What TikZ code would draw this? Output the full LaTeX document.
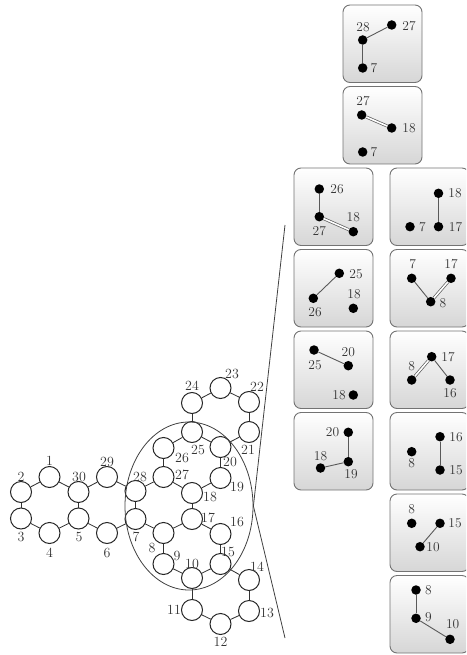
\documentclass[tikz,border=0pt]{standalone}
\usetikzlibrary{shapes.geometric}
\begin{document}
\begin{tikzpicture}[x=1pt,y=-1pt,
  atom/.style={circle,draw=black!85,line width=1pt,minimum size=21pt,inner sep=0pt},
  bond/.style={draw=black!80,line width=0.85pt},
  lbl/.style={inner sep=0pt,text=black!80,font=\fontsize{14}{16}\selectfont},
  blbl/.style={inner sep=0pt,text=black!80,font=\fontsize{13.5}{15}\selectfont},
  box/.style={draw=black!55,line width=0.9pt,rounded corners=7pt,top color=white,bottom color=black!16,minimum width=79pt,minimum height=77.5pt,inner sep=0pt},
  dot/.style={circle,fill=black,minimum size=9.5pt,inner sep=0pt},
  sb/.style={draw=black!65,line width=0.9pt},
  db/.style={draw=black!65,double=white,double distance=1.6pt,line width=0.7pt},
  zoomline/.style={draw=black!75,line width=0.8pt}]
\useasboundingbox (0,0) rectangle (466,655);
\clip (0,0) rectangle (466,655);

% ---------- molecule ----------
\node[atom] (a1) at (49.5,477) {};
\node[atom] (a2) at (21,492) {};
\node[atom] (a3) at (21,518.5) {};
\node[atom] (a4) at (49.5,533) {};
\node[atom] (a5) at (78.5,518.5) {};
\node[atom] (a6) at (107,533) {};
\node[atom] (a7) at (135.5,519) {};
\node[atom] (a8) at (163.5,533) {};
\node[atom] (a9) at (163.5,564) {};
\node[atom] (a10) at (192,578) {};
\node[atom] (a11) at (192,610) {};
\node[atom] (a12) at (220.5,624) {};
\node[atom] (a13) at (249,611) {};
\node[atom] (a14) at (249,580) {};
\node[atom] (a15) at (220.5,564) {};
\node[atom] (a16) at (220.5,534) {};
\node[atom] (a17) at (192,519) {};
\node[atom] (a18) at (192,493) {};
\node[atom] (a19) at (220.5,478) {};
\node[atom] (a20) at (220.5,447) {};
\node[atom] (a21) at (249,432) {};
\node[atom] (a22) at (249,402) {};
\node[atom] (a23) at (220.5,388) {};
\node[atom] (a24) at (192,403) {};
\node[atom] (a25) at (192,432) {};
\node[atom] (a26) at (163.5,448) {};
\node[atom] (a27) at (163.5,477) {};
\node[atom] (a28) at (135.5,491) {};
\node[atom] (a29) at (107,477) {};
\node[atom] (a30) at (78.5,492) {};

\foreach \u/\v in {2/1,1/30,30/5,5/4,4/3,3/2,30/29,29/28,28/7,7/6,6/5,
  28/27,27/18,18/17,17/8,8/7,27/26,26/25,25/20,20/19,19/18,
  25/24,24/23,23/22,22/21,21/20,17/16,16/15,15/10,10/9,9/8,
  10/11,11/12,12/13,13/14,14/15}
  \draw[bond] (a\u) -- (a\v);

\node[lbl] (t1) at (49.5,461) {1};
\node[lbl] (t2) at (21,477) {2};
\node[lbl] (t3) at (21,537) {3};
\node[lbl] (t4) at (49.5,553) {4};
\node[lbl] (t5) at (79,537) {5};
\node[lbl] (t6) at (107,553) {6};
\node[lbl] (t7) at (136,537) {7};
\node[lbl] (t8) at (152,548) {8};
\node[lbl] (t9) at (177,556) {9};
\node[lbl] (t10) at (192,564) {10};
\node[lbl] (t11) at (174,610) {11};
\node[lbl] (t12) at (220.5,642) {12};
\node[lbl] (t13) at (267,613) {13};
\node[lbl] (t14) at (257,567) {14};
\node[lbl] (t15) at (228,552) {15};
\node[lbl] (t16) at (237,522) {16};
\node[lbl] (t17) at (208,518) {17};
\node[lbl] (t18) at (210,497) {18};
\node[lbl] (t19) at (237,487) {19};
\node[lbl] (t20) at (230,462) {20};
\node[lbl] (t21) at (248,450) {21};
\node[lbl] (t22) at (257,387) {22};
\node[lbl] (t23) at (232,374) {23};
\node[lbl] (t24) at (192,386) {24};
\node[lbl] (t25) at (198,450) {25};
\node[lbl] (t26) at (182,458) {26};
\node[lbl] (t27) at (182,475) {27};
\node[lbl] (t28) at (140,477) {28};
\node[lbl] (t29) at (107,462) {29};
\node[lbl] (t30) at (79,477) {30};

% ---------- zoom ellipse and lines ----------
\node[ellipse,draw=black!75,line width=0.8pt,minimum width=128pt,minimum height=168pt,inner sep=0pt] (zoom) at (189,506) {};
\coordinate (ztop) at (285,225);
\coordinate (zbot) at (285,638);
\draw[zoomline] (zoom.east) -- (ztop);
\draw[zoomline] (zoom.east) -- (zbot);

% ---------- boxes ----------
\node[box] (bA) at (382.5,43.75) {};
\node[box] (bB) at (382.5,125.25) {};
\node[box] (bC) at (333.5,206.75) {};
\node[box] (bD) at (429.5,206.75) {};
\node[box] (bE) at (333.5,288.25) {};
\node[box] (bF) at (429.5,288.25) {};
\node[box] (bG) at (333.5,369.75) {};
\node[box] (bH) at (429.5,369.75) {};
\node[box] (bI) at (333.5,451.25) {};
\node[box] (bJ) at (429.5,451.25) {};
\node[box] (bK) at (429.5,532.75) {};
\node[box] (bL) at (429.5,614.25) {};

% box A
\node[dot] (A28) at (362.7,40) {};
\node[dot] (A27) at (391.7,25) {};
\node[dot] (A7) at (362.7,68) {};
\draw[sb] (A28) -- (A27);
\draw[sb] (A28) -- (A7);
\node[blbl] (lA28) at (363,27.5) {28};
\node[blbl] (lA27) at (409,26) {27};
\node[blbl] (lA7) at (374,68) {7};

% box B
\node[dot] (B27) at (361.7,115) {};
\node[dot] (B18) at (391.7,128) {};
\node[dot] (B7) at (362.7,152) {};
\draw[db] (B27) -- (B18);
\node[blbl] (lB27) at (363,101.5) {27};
\node[blbl] (lB18) at (409,128) {18};
\node[blbl] (lB7) at (374,152) {7};

% box C
\node[dot] (C26) at (319.3,189) {};
\node[dot] (C27) at (319.3,216.7) {};
\node[dot] (C18) at (353.3,231.7) {};
\draw[sb] (C26) -- (C27);
\draw[db] (C27) -- (C18);
\node[blbl] (lC26) at (337,189) {26};
\node[blbl] (lC27) at (319.3,231) {27};
\node[blbl] (lC18) at (353.3,217.5) {18};

% box D
\node[dot] (D18) at (438.5,193.3) {};
\node[dot] (D17) at (438.5,226.7) {};
\node[dot] (D7) at (410,226.7) {};
\draw[sb] (D18) -- (D17);
\node[blbl] (lD18) at (455,193.3) {18};
\node[blbl] (lD17) at (455.5,226.7) {17};
\node[blbl] (lD7) at (422.5,226.7) {7};

% box E
\node[dot] (E25) at (339.3,273.3) {};
\node[dot] (E26) at (313.3,298.3) {};
\node[dot] (E18) at (353.3,308.3) {};
\draw[sb] (E25) -- (E26);
\node[blbl] (lE25) at (356,274) {25};
\node[blbl] (lE26) at (315,312.5) {26};
\node[blbl] (lE18) at (354,294.5) {18};

% box F
\node[dot] (F7) at (411.7,278.3) {};
\node[dot] (F17) at (451,278.3) {};
\node[dot] (F8) at (430.7,301.7) {};
\draw[sb] (F7) -- (F8);
\draw[db] (F8) -- (F17);
\node[blbl] (lF7) at (412.7,264) {7};
\node[blbl] (lF17) at (451,264) {17};
\node[blbl] (lF8) at (443,302.7) {8};

% box G
\node[dot] (G25) at (314,350) {};
\node[dot] (G20) at (348.3,365.7) {};
\node[dot] (G18) at (353.3,395) {};
\draw[sb] (G25) -- (G20);
\node[blbl] (lG25) at (315,365) {25};
\node[blbl] (lG20) at (348.3,352.5) {20};
\node[blbl] (lG18) at (339,395) {18};

% box H
\node[dot] (H8) at (411.7,380) {};
\node[dot] (H17) at (431.7,356.7) {};
\node[dot] (H16) at (450,380) {};
\draw[db] (H8) -- (H17);
\draw[sb] (H17) -- (H16);
\node[blbl] (lH8) at (411.7,366.5) {8};
\node[blbl] (lH17) at (448,356.7) {17};
\node[blbl] (lH16) at (450,393.5) {16};

% box I
\node[dot] (I20) at (348.3,432.3) {};
\node[dot] (I19) at (348.3,461.7) {};
\node[dot] (I18) at (320.5,468) {};
\draw[sb] (I20) -- (I19);
\draw[sb] (I19) -- (I18);
\node[blbl] (lI20) at (332.5,432.3) {20};
\node[blbl] (lI19) at (351,474) {19};
\node[blbl] (lI18) at (320.5,456.5) {18};

% box J
\node[dot] (J8) at (411.7,451.7) {};
\node[dot] (J16) at (440,436.7) {};
\node[dot] (J15) at (440,470) {};
\draw[sb] (J16) -- (J15);
\node[blbl] (lJ8) at (411.7,463.5) {8};
\node[blbl] (lJ16) at (456,436.7) {16};
\node[blbl] (lJ15) at (456,470) {15};

% box K
\node[dot] (K8) at (411.7,523.3) {};
\node[dot] (K15) at (440,523.3) {};
\node[dot] (K10) at (420,546.7) {};
\draw[sb] (K15) -- (K10);
\node[blbl] (lK8) at (411.7,509.5) {8};
\node[blbl] (lK15) at (455,523.3) {15};
\node[blbl] (lK10) at (433,546.7) {10};

% box L
\node[dot] (L8) at (416,590) {};
\node[dot] (L9) at (416,618.3) {};
\node[dot] (L10) at (450,639.3) {};
\draw[sb] (L8) -- (L9);
\draw[sb] (L9) -- (L10);
\node[blbl] (lL8) at (428.5,590) {8};
\node[blbl] (lL9) at (428.5,617) {9};
\node[blbl] (lL10) at (452.7,624.5) {10};
\end{tikzpicture}
\end{document}
